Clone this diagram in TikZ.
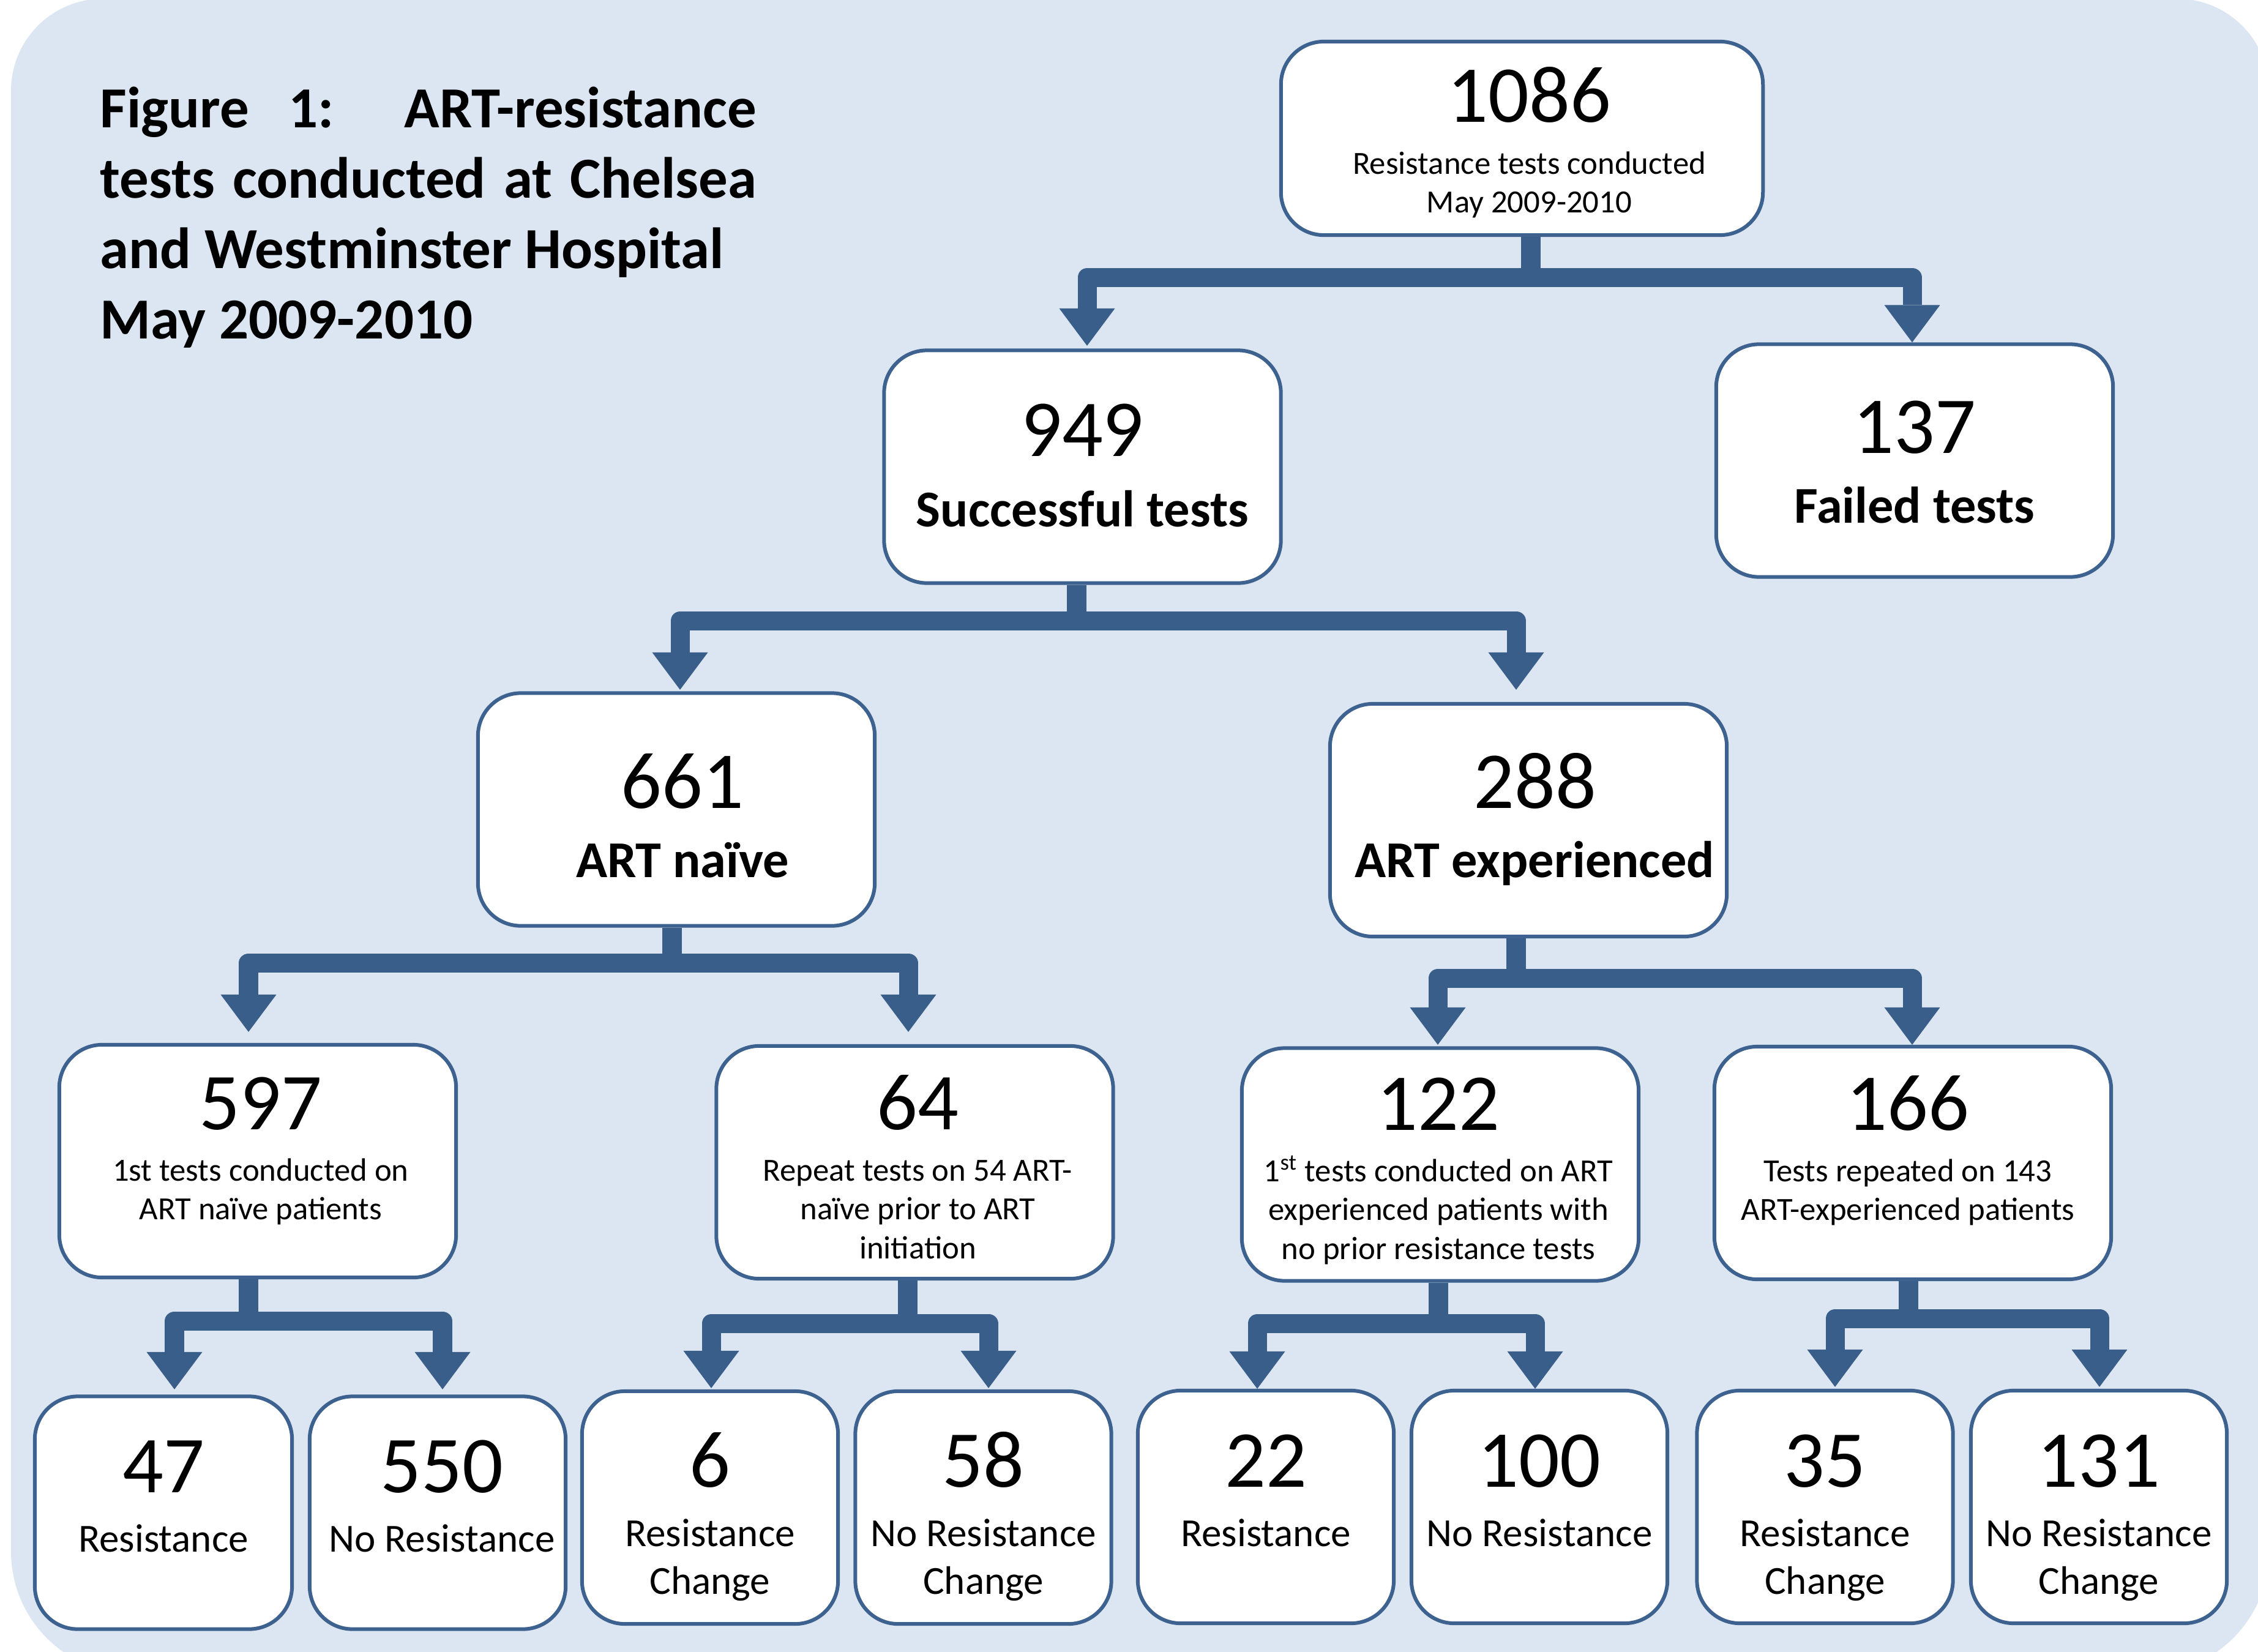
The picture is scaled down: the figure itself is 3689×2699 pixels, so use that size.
\documentclass[tikz,border=0pt]{standalone}
\usepackage{fontspec}
\setmainfont{Carlito}
\usetikzlibrary{arrows.meta}
\definecolor{bgblue}{RGB}{220,230,242}
\definecolor{connblue}{RGB}{58,94,138}
\definecolor{boxline}{RGB}{62,98,143}
\tikzset{
  box/.style={draw=boxline, line width=0.06cm, fill=white, rounded corners=0.7cm, inner sep=0pt},
  midbox/.style={box, minimum width=6.48cm, minimum height=3.80cm},
  lowbox/.style={box, minimum width=4.18cm, minimum height=3.80cm},
  num/.style={anchor=base, inner sep=0pt, font=\fontsize{37.5}{45}\selectfont},
  small/.style={anchor=base, inner sep=0pt, font=\fontsize{15}{18.07}\selectfont},
  boldlbl/.style={anchor=base, inner sep=0pt, font=\fontsize{24}{29}\selectfont\bfseries},
  low/.style={anchor=base, inner sep=0pt, font=\fontsize{18.5}{22.3}\selectfont},
  stem/.style={draw=connblue, line width=0.32cm, line cap=butt},
  branch/.style={draw=connblue, line width=0.31cm, line join=round, line cap=butt,
    arrows={Triangle[width=0.91cm,length=0.61cm,line width=0pt]-Triangle[width=0.91cm,length=0.61cm,line width=0pt]}},
}
\begin{document}
\begin{tikzpicture}[x=0.01cm,y=-0.01cm]
\useasboundingbox (0,0) rectangle (3689,2699);
\clip (0,0) rectangle (3689,2699);
% background panel
\fill[bgblue] (18,1400) [rounded corners=1.5cm] -- (18,-2) -- (3707,-2) -- (3707,1400) [rounded corners=2.0cm] -- (3707,2735) -- (18,2735) -- cycle;

% title
\node[anchor=base west, inner sep=0pt] (title) at (163,208) {\vtop{\hsize=305pt\parindent=0pt\parskip=0pt\fontsize{27}{32.72}\selectfont\bfseries
\makebox[\hsize][s]{Figure 1: ART-resistance}\par
\makebox[\hsize][s]{tests conducted at Chelsea}\par
and Westminster Hospital\par
May 2009-2010}};

% boxes
\node[box, minimum width=7.87cm, minimum height=3.16cm] (b1086) at (2486.5,226) {};
\node[midbox] (b949) at (1768.5,762.5) {};
\node[midbox] (b137) at (3128,752.5) {};
\node[midbox] (b661) at (1105,1322.5) {};
\node[midbox] (b288) at (2497,1340) {};
\node[midbox] (b597) at (421,1897) {};
\node[midbox] (b64) at (1494.5,1899) {};
\node[midbox] (b122) at (2353,1902.5) {};
\node[midbox] (b166) at (3125,1900) {};
\node[lowbox, minimum width=4.2cm] (b47) at (267,2471.5) {};
\node[lowbox] (b550) at (715,2471.5) {};
\node[lowbox] (b6) at (1160,2463) {};
\node[lowbox] (b58) at (1606.5,2463) {};
\node[lowbox] (b22) at (2068,2462) {};
\node[lowbox] (b100) at (2515,2462) {};
\node[lowbox] (b35) at (2981.5,2462) {};
\node[lowbox] (b131) at (3429,2462) {};

% texts
\node[num, xshift=0.12cm] (n1086) at (b1086.center |- 0,199) {1086};
\node[small, xshift=0.12cm] (d1086) at (b1086.center |- 0,284) {\begin{tabular}[t]{@{}c@{}}Resistance tests conducted\\May 2009-2010\end{tabular}};
\node[num] (n949) at (b949.center |- 0,745) {949};
\node[boldlbl] (d949) at (b949.center |- 0,860) {Successful tests};
\node[num] (n137) at (b137.center |- 0,740) {137};
\node[boldlbl] (d137) at (b137.center |- 0,854) {Failed tests};
\node[num, xshift=0.10cm] (n661) at (b661.center |- 0,1320) {661};
\node[boldlbl, xshift=0.10cm] (d661) at (b661.center |- 0,1433) {ART naïve};
\node[num, xshift=0.11cm] (n288) at (b288.center |- 0,1320) {288};
\node[boldlbl, xshift=0.10cm] (d288) at (b288.center |- 0,1433) {ART experienced};
\node[num, xshift=0.05cm] (n597) at (b597.center |- 0,1845) {597};
\node[small, xshift=0.05cm] (d597) at (b597.center |- 0,1929) {\begin{tabular}[t]{@{}c@{}}1st tests conducted on\\ART naïve patients\end{tabular}};
\node[num, xshift=0.05cm] (n64) at (b64.center |- 0,1845) {64};
\node[small, xshift=0.05cm] (d64) at (b64.center |- 0,1929) {\begin{tabular}[t]{@{}c@{}}Repeat tests on 54 ART-\\naïve prior to ART\\initiation\end{tabular}};
\node[num, xshift=-0.03cm] (n122) at (b122.center |- 0,1846) {122};
\node[small, xshift=-0.03cm] (d122) at (b122.center |- 0,1930) {\begin{tabular}[t]{@{}c@{}}1\textsuperscript{st} tests conducted on ART\\experienced patients with\\no prior resistance tests\end{tabular}};
\node[num, xshift=-0.08cm] (n166) at (b166.center |- 0,1846) {166};
\node[small, xshift=-0.08cm] (d166) at (b166.center |- 0,1930) {\begin{tabular}[t]{@{}c@{}}Tests repeated on 143\\ART-experienced patients\end{tabular}};
\node[num] (n47) at (b47.center |- 0,2438) {47};
\node[low] (d47) at (b47.center |- 0,2535) {Resistance};
\node[num, xshift=0.07cm] (n550) at (b550.center |- 0,2438) {550};
\node[low, xshift=0.07cm] (d550) at (b550.center |- 0,2535) {No Resistance};
\node[num] (n6) at (b6.center |- 0,2429) {6};
\node[low] (d6) at (b6.center |- 0,2526) {\begin{tabular}[t]{@{}c@{}}Resistance\\Change\end{tabular}};
\node[num] (n58) at (b58.center |- 0,2429) {58};
\node[low] (d58) at (b58.center |- 0,2526) {\begin{tabular}[t]{@{}c@{}}No Resistance\\Change\end{tabular}};
\node[num] (n22) at (b22.center |- 0,2429) {22};
\node[low] (d22) at (b22.center |- 0,2526) {Resistance};
\node[num] (n100) at (b100.center |- 0,2429) {100};
\node[low] (d100) at (b100.center |- 0,2526) {No Resistance};
\node[num] (n35) at (b35.center |- 0,2429) {35};
\node[low] (d35) at (b35.center |- 0,2526) {\begin{tabular}[t]{@{}c@{}}Resistance\\Change\end{tabular}};
\node[num] (n131) at (b131.center |- 0,2429) {131};
\node[low] (d131) at (b131.center |- 0,2526) {\begin{tabular}[t]{@{}c@{}}No Resistance\\Change\end{tabular}};

% connectors
\coordinate (j1) at ([shift={(14.5,66)}]b1086.south);
\draw[stem] ([shift={(14.5,0)}]b1086.south) -- (j1);
\draw[branch] ([shift={(7.5,-4.5)}]b949.north) |- (j1) -| ([shift={(-4,0)}]b137.north);

\coordinate (j2) at ([shift={(-9.5,58.5)}]b949.south);
\draw[stem] ([shift={(-9.5,0)}]b949.south) -- (j2);
\draw[branch] ([shift={(6,-2.5)}]b661.north) |- (j2) -| ([shift={(-20,-20)}]b288.north);

\coordinate (j3) at ([shift={(-7,57.5)}]b661.south);
\draw[stem] ([shift={(-7,0)}]b661.south) -- (j3);
\draw[branch] ([shift={(-15,-18)}]b597.north) |- (j3) -| ([shift={(-10.5,-20)}]b64.north);

\coordinate (j4) at ([shift={(-20,65)}]b288.south);
\draw[stem] ([shift={(-20,0)}]b288.south) -- (j4);
\draw[branch] ([shift={(-4,-2.5)}]b122.north) |- (j4) -| ([shift={(-1,0)}]b166.north);

\coordinate (j5) at ([shift={(-15,68)}]b597.south);
\draw[stem] ([shift={(-15,0)}]b597.south) -- (j5);
\draw[branch] ([shift={(18,-8.5)}]b47.north) |- (j5) -| ([shift={(8,-8.5)}]b550.north);

\coordinate (j6) at ([shift={(-11.5,70)}]b64.south);
\draw[stem] ([shift={(-11.5,0)}]b64.south) -- (j6);
\draw[branch] ([shift={(2,-2)}]b6.north) |- (j6) -| ([shift={(8.5,-2)}]b58.north);

\coordinate (j7) at ([shift={(-3,66.5)}]b122.south);
\draw[stem] ([shift={(-3,0)}]b122.south) -- (j7);
\draw[branch] ([shift={(-14,0)}]b22.north) |- (j7) -| ([shift={(-7,0)}]b100.north);

\coordinate (j8) at ([shift={(-7,61)}]b166.south);
\draw[stem] ([shift={(-7,0)}]b166.south) -- (j8);
\draw[branch] ([shift={(16.5,-3)}]b35.north) |- (j8) -| ([shift={(1,-3)}]b131.north);
\end{tikzpicture}
\end{document}
